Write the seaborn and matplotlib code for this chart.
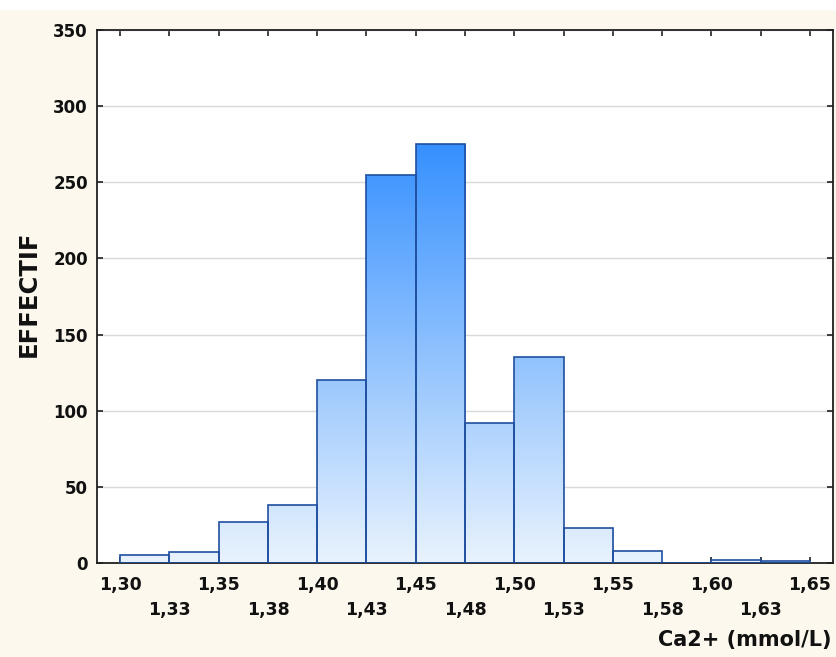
import numpy as np
import matplotlib
matplotlib.use("Agg")
import matplotlib.pyplot as plt
from matplotlib.patches import Rectangle
from matplotlib.colors import LinearSegmentedColormap
import seaborn as sns

# Histogram of ionised calcium (bins of 0.025 mmol/L)
bin_edges = [1.300, 1.325, 1.350, 1.375, 1.400, 1.425, 1.450, 1.475,
             1.500, 1.525, 1.550, 1.575, 1.600, 1.625, 1.650]
counts = [5, 7, 27, 38, 120, 255, 275, 92, 135, 23, 8, 0, 2, 1]

major_ticks = [1.30, 1.35, 1.40, 1.45, 1.50, 1.55, 1.60, 1.65]
major_labels = ["1,30", "1,35", "1,40", "1,45", "1,50", "1,55", "1,60", "1,65"]
minor_ticks = [1.325, 1.375, 1.425, 1.475, 1.525, 1.575, 1.625]
minor_labels = ["1,33", "1,38", "1,43", "1,48", "1,53", "1,58", "1,63"]
y_ticks = [0, 50, 100, 150, 200, 250, 300, 350]

sns.set_theme(style="white")
plt.rcParams["font.family"] = ["DejaVu Sans"]
plt.rcParams["font.weight"] = "bold"

W, H = 836, 657
fig = plt.figure(figsize=(W / 100, H / 100), dpi=100, facecolor="#FCF8ED")
fig.patches.append(Rectangle((0, 1 - 10 / H), 1, 10 / H, transform=fig.transFigure,
                             facecolor="white", edgecolor="none", zorder=-1))

ax = fig.add_axes([97 / W, 1 - 563 / H, (833 - 97) / W, (563 - 30) / H])
ax.set_facecolor("white")

centers = [(a + b) / 2 for a, b in zip(bin_edges[:-1], bin_edges[1:])]
sns.histplot(x=centers, weights=counts, bins=bin_edges, ax=ax, stat="count",
             fill=True, edgecolor="#1F4FA0", linewidth=1.2)

# vertical gradient fill, tied to the count scale
grad_cmap = LinearSegmentedColormap.from_list("blues", ["#E9F3FD", "#3690FF"])
grad = np.linspace(0, 1, 256).reshape(-1, 1)
grad_top = max(counts)
for p in ax.patches:
    p.set_facecolor("none")
    p.set_zorder(3)
    h = p.get_height()
    if h <= 0:
        continue
    x0 = p.get_x()
    x1 = x0 + p.get_width()
    im = ax.imshow(grad, extent=[x0, x1, 0, grad_top], origin="lower",
                   cmap=grad_cmap, aspect="auto", zorder=2, interpolation="bilinear")
    im.set_clip_path(p)

ax.set_xlim(1.2882, 1.6618)
ax.set_ylim(0, 350)

ax.yaxis.grid(True, color="#D9D9D9", linewidth=1)
ax.xaxis.grid(False)
ax.set_axisbelow(True)

ax.set_yticks(y_ticks)
ax.set_xticks(major_ticks, major_labels)
ax.set_xticks(minor_ticks, minor_labels, minor=True)

ax.tick_params(axis="x", which="major", direction="in", length=4, width=1.2,
               top=True, bottom=True, pad=9.5, labelsize=12.5, colors="#202020")
ax.tick_params(axis="x", which="minor", direction="in", length=4, width=1.2,
               top=True, bottom=True, pad=27.5, labelsize=12.5, colors="#202020")
ax.tick_params(axis="y", which="major", direction="in", length=4, width=1.2,
               left=True, right=True, pad=6.5, labelsize=12, colors="#202020")
for lab in ax.get_xticklabels(which="both") + ax.get_yticklabels():
    lab.set_fontweight("bold")
    lab.set_color("#111111")

for s in ax.spines.values():
    s.set_visible(True)
    s.set_color("#202020")
    s.set_linewidth(1.3)

ax.set_xlabel("")
ax.set_ylabel("EFFECTIF", fontsize=17.5, fontweight="bold", color="#111111")
ax.yaxis.set_label_coords(-0.076, 0.505)

fig.text(832 / W, 1 - 640 / H, "Ca2+ (mmol/L)", ha="right", va="center",
         fontsize=15, fontweight="bold", color="#111111")

fig.savefig("out.png", dpi=100, facecolor=fig.get_facecolor())
